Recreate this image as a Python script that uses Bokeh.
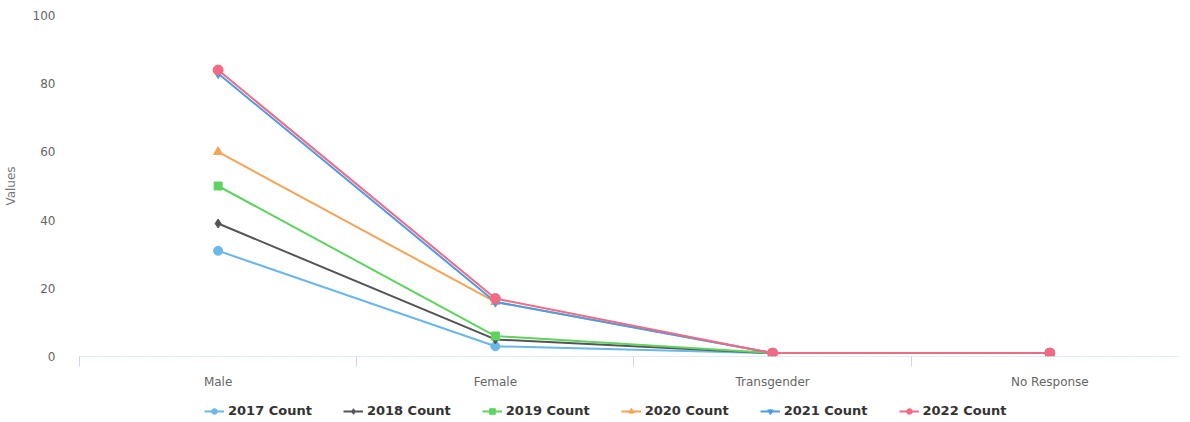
from bokeh.plotting import figure
from bokeh.models import FixedTicker, Legend, LegendItem, Range1d
from bokeh.layouts import column
from bokeh.embed import file_html
from bokeh.resources import INLINE

categories = ["Male", "Female", "Transgender", "No Response"]
series_names = ["2017 Count", "2018 Count", "2019 Count", "2020 Count", "2021 Count", "2022 Count"]
v2017 = [31, 3, 1, 1]
v2018 = [39, 5, 1, 1]
v2019 = [50, 6, 1, 1]
v2020 = [60, 16, 1, 1]
v2021 = [83, 16, 1, 1]
v2022 = [84, 17, 1, 1]
y_ticks = [0, 20, 40, 60, 80, 100]

series = [v2017, v2018, v2019, v2020, v2021, v2022]
colors = ["#6bb7ea", "#555555", "#5fd35f", "#f5a356", "#4b9ce6", "#f26a85"]
markers = ["circle", "diamond", "square", "triangle", "inverted_triangle", "circle"]
sizes = [9, 9, 8, 9, 9, 10]

xs = list(range(len(categories)))

p = figure(width=1180, height=391, output_backend="svg", toolbar_location=None,
           x_range=Range1d(-0.5, 3.464), y_range=Range1d(0, 100),
           min_border_left=70, min_border_right=2, min_border_top=15, min_border_bottom=30)
p.outline_line_color = None
p.background_fill_color = "white"
p.border_fill_color = "white"

p.xaxis.ticker = FixedTicker(ticks=xs, minor_ticks=[-0.5, 0.5, 1.5, 2.5, 3.5])
p.xaxis.major_label_overrides = {i: c for i, c in enumerate(categories)}
p.xaxis.major_tick_line_color = None
p.xaxis.minor_tick_line_color = "#ccd6eb"
p.xaxis.minor_tick_out = 10
p.xaxis.minor_tick_in = 0
p.xaxis.axis_line_color = "#cfe0f0"
p.xaxis.axis_line_dash = "2 1"
p.xaxis.major_label_text_color = "#666666"
p.xaxis.major_label_text_font = "DejaVu Sans"
p.xaxis.major_label_text_font_size = "12px"
p.xaxis.major_label_standoff = 8

p.yaxis.ticker = FixedTicker(ticks=y_ticks)
p.yaxis.axis_line_color = None
p.yaxis.major_tick_line_color = None
p.yaxis.minor_tick_line_color = None
p.yaxis.major_label_text_color = "#666666"
p.yaxis.major_label_text_font = "DejaVu Sans"
p.yaxis.major_label_text_font_size = "12px"
p.yaxis.major_label_standoff = 18
p.yaxis.axis_label = "Values"
p.yaxis.axis_label_text_color = "#777777"
p.yaxis.axis_label_text_font = "DejaVu Sans"
p.yaxis.axis_label_text_font_size = "12px"
p.yaxis.axis_label_text_font_style = "normal"
p.yaxis.axis_label_standoff = 12

p.xgrid.grid_line_color = None
p.ygrid.grid_line_color = "#f4f4f4"
p.ygrid.grid_line_dash = "1 3"

for vals, col, mk, sz in zip(series, colors, markers, sizes):
    p.line(xs, vals, line_color=col, line_width=2)
    p.scatter(xs, vals, marker=mk, size=sz, fill_color=col, line_color=col)

# legend panel: same series, drawn outside its visible range so only the legend shows
lg = figure(width=1180, height=30, output_backend="svg", toolbar_location=None,
            x_range=Range1d(100, 101), y_range=Range1d(100, 101),
            min_border_left=0, min_border_right=0, min_border_top=0, min_border_bottom=0)
lg.outline_line_color = None
lg.xaxis.visible = False
lg.yaxis.visible = False
lg.xgrid.grid_line_color = None
lg.ygrid.grid_line_color = None

items = []
for name, vals, col, mk, sz in zip(series_names, series, colors, markers, sizes):
    ln = lg.line(xs, vals, line_color=col, line_width=2)
    sc = lg.scatter(xs, vals, marker=mk, size=sz, fill_color=col, line_color=col)
    items.append(LegendItem(label=name, renderers=[ln, sc], index=0))

legend = Legend(items=items, orientation="horizontal", location=(125, 3),
                label_text_font="DejaVu Sans", label_text_font_size="13px",
                label_text_font_style="bold", label_text_color="#333333",
                glyph_width=20, glyph_height=14, spacing=31, padding=4,
                label_standoff=4, border_line_color=None, background_fill_alpha=0,
                margin=0)
lg.add_layout(legend, "center")

layout = column(p, lg, spacing=0)
open("out.html", "w").write(file_html(layout, INLINE))
